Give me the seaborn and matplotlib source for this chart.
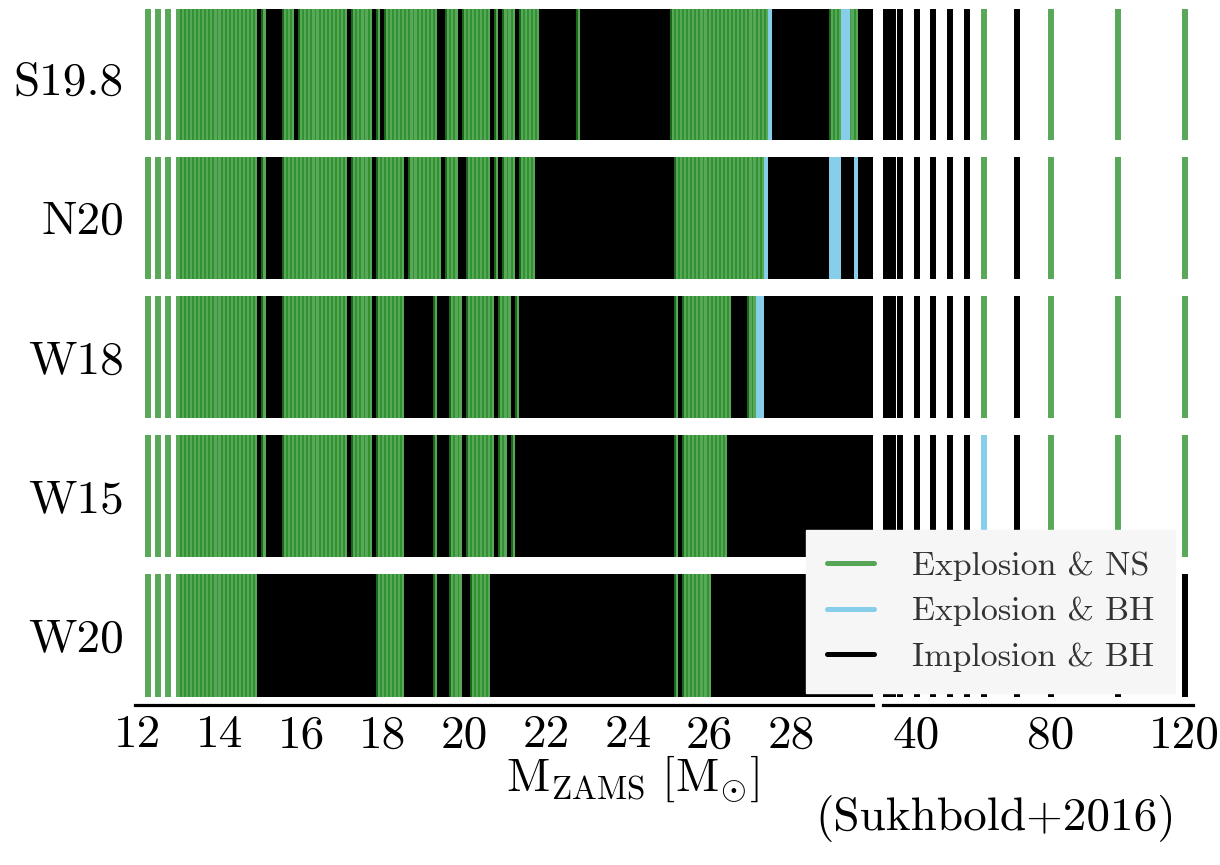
import matplotlib
matplotlib.use("Agg")
import matplotlib.pyplot as plt
import seaborn as sns
from matplotlib.lines import Line2D

# ---------------- data ----------------
models = ["S19.8", "N20", "W18", "W15", "W20"]

low_masses = [12.25, 12.5, 12.75]
fine_masses = [
    13.0, 13.1, 13.2, 13.3, 13.4, 13.5, 13.6, 13.7, 13.8, 13.9,
    14.0, 14.1, 14.2, 14.3, 14.4, 14.5, 14.6, 14.7, 14.8, 14.9,
    15.0, 15.1, 15.2, 15.3, 15.4, 15.5, 15.6, 15.7, 15.8, 15.9,
    16.0, 16.1, 16.2, 16.3, 16.4, 16.5, 16.6, 16.7, 16.8, 16.9,
    17.0, 17.1, 17.2, 17.3, 17.4, 17.5, 17.6, 17.7, 17.8, 17.9,
    18.0, 18.1, 18.2, 18.3, 18.4, 18.5, 18.6, 18.7, 18.8, 18.9,
    19.0, 19.1, 19.2, 19.3, 19.4, 19.5, 19.6, 19.7, 19.8, 19.9,
    20.0, 20.1, 20.2, 20.3, 20.4, 20.5, 20.6, 20.7, 20.8, 20.9,
    21.0, 21.1, 21.2, 21.3, 21.4, 21.5, 21.6, 21.7, 21.8, 21.9,
    22.0, 22.1, 22.2, 22.3, 22.4, 22.5, 22.6, 22.7, 22.8, 22.9,
    23.0, 23.1, 23.2, 23.3, 23.4, 23.5, 23.6, 23.7, 23.8, 23.9,
    24.0, 24.1, 24.2, 24.3, 24.4, 24.5, 24.6, 24.7, 24.8, 24.9,
    25.0, 25.1, 25.2, 25.3, 25.4, 25.5, 25.6, 25.7, 25.8, 25.9,
    26.0, 26.1, 26.2, 26.3, 26.4, 26.5, 26.6, 26.7, 26.8, 26.9,
    27.0, 27.1, 27.2, 27.3, 27.4, 27.5, 27.6, 27.7, 27.8, 27.9,
    28.0, 28.1, 28.2, 28.3, 28.4, 28.5, 28.6, 28.7, 28.8, 28.9,
    29.0, 29.1, 29.2, 29.3, 29.4, 29.5, 29.6, 29.7, 29.8, 29.9,
    30.0,
]
high_masses = [31, 32, 33, 35, 40, 45, 50, 55, 60, 70, 80, 100, 120]

# outcome codes: g = explosion & NS, b = explosion & BH, k = implosion & BH
# low block (12.25-12.75)
s198_low = "ggg"
n20_low = "ggg"
w18_low = "ggg"
w15_low = "ggg"
w20_low = "ggg"

# fine block, one group of ten per integer mass (13.x ... 29.x), then 30.0
s198_fine = ("gggggggggg gggggggggg kgkkkkgggk gggggggggg ggkgggggkg "
             "kggggggggg ggggkkgggk gggggggkgk gggkgggggk kkkkkkkkgk "
             "kkkkkkkkkk kkkkkkkkkk kggggggggg gggggggggg gggggbkkkk "
             "kkkkkkkkkk gggbbggkkk k")
n20_fine = ("gggggggggg gggggggggg kgkkkkgggg gggggggggg ggkgggggkg "
            "ggggggkggg gggggkgggk kggggggkgk gggkggggkk kkkkkkkkkk "
            "kkkkkkkkkk kkkkkkkkkk kkgggggggg gggggggggg ggggbkkkkk "
            "kkkkkkkkkk bbbkkkbkkk k")
w18_fine = ("gggggggggg gggggggggg kgkkkkgggg gggggggggg ggkgggggkg "
            "ggggggkkkk kkkgkkkggg kgggggggkg ggkgkkkkkk kkkkkkkkkk "
            "kkkkkkkkkk kkkkkkkkkk kkgkgggggg ggggggkkkk ggbbkkkkkk "
            "kkkkkkkkkk kkkkkkkkkk k")
w15_fine = ("gggggggggg gggggggggg kgkkkkgggg gggggggggg ggkgggggkg "
            "ggggggkkkk kkkgkkkggg kgggggggkg gkgkkkkkkk kkkkkkkkkk "
            "kkkkkkkkkk kkkkkkkkkk kkgkgggggg gggggkkkkk kkkkkkkkkk "
            "kkkkkkkkkk kkkkkkkkkk k")
w20_fine = ("gggggggggg gggggggggg kkkkkkkkkk kkkkkkkkkk kkkkkkkkkg "
            "ggggggkkkk kkkgkkkggg kkgggggkkk kkkkkkkkkk kkkkkkkkkk "
            "kkkkkkkkkk kkkkkkkkkk kkgkgggggg gkkkkkkkkk kkkkkkkkkk "
            "kkkkkkkkkk kkkkkkkkkk k")

# high block (31 ... 120)
s198_high = "kkkkkkkkgkggg"
n20_high = "kkkkkkkkgkggg"
w18_high = "kkkkkkkkgkggg"
w15_high = "kkkkkkkkbkggg"
w20_high = "kkkkkkkkkkkkk"

left_ticks = [12, 14, 16, 18, 20, 22, 24, 26, 28]
right_ticks = [40, 80, 120]
legend_labels = ["Explosion & NS", "Explosion & BH", "Implosion & BH"]

# ---------------- style ----------------
sns.set_theme(style="white")
plt.rcParams["font.family"] = ["cmr10", "DejaVu Serif"]
plt.rcParams["mathtext.fontset"] = "cm"
plt.rcParams["axes.unicode_minus"] = False
plt.rcParams["axes.formatter.use_mathtext"] = True

GREEN = (34 / 255, 139 / 255, 34 / 255, 0.75)
BLUE = (135 / 255, 206 / 255, 235 / 255, 1.0)
BLACK = (0, 0, 0, 1.0)
code_color = {"g": GREEN, "b": BLUE, "k": BLACK}

fig = plt.figure(figsize=(12.2, 8.65), dpi=100)
ax_l = fig.add_axes([135 / 1220, 1 - 705 / 865, 738 / 1220, 696 / 865])
ax_r = fig.add_axes([882.7 / 1220, 1 - 705 / 865, 310.3 / 1220, 696 / 865])

rows = [
    (s198_low, s198_fine, s198_high),
    (n20_low, n20_fine, n20_high),
    (w18_low, w18_fine, w18_high),
    (w15_low, w15_fine, w15_high),
    (w20_low, w20_fine, w20_high),
]
all_masses = low_masses + fine_masses + high_masses
half = 0.44
LW = 4.3

for i, (lo, fi, hi) in enumerate(rows):
    codes = lo + fi.replace(" ", "") + hi
    assert len(codes) == len(all_masses)
    colors = [code_color[c] for c in codes]
    top = -0.5 if i == 0 else i - half
    for ax in (ax_l, ax_r):
        ax.vlines(all_masses, i + half, top, colors=colors, linewidth=LW)

for ax in (ax_l, ax_r):
    ax.set_ylim(4.5, -0.5)
    sns.despine(ax=ax, left=True, top=True, right=True)
    ax.spines["bottom"].set_color("black")
    ax.spines["bottom"].set_linewidth(2.3)
    ax.tick_params(axis="both", length=0, labelsize=34, colors="black")
    ax.tick_params(axis="x", pad=7)
    ax.grid(False)

ax_l.set_xlim(11.93, 30.0)
ax_l.set_xticks(left_ticks)
ax_l.set_xticklabels([str(t) for t in left_ticks])
ax_l.set_yticks(range(len(models)))
ax_l.set_yticklabels(models)
ax_l.tick_params(axis="y", pad=8)

ax_r.set_xlim(29.9, 122.5)
ax_r.set_xticks(right_ticks)
ax_r.set_xticklabels([str(t) for t in right_ticks])
ax_r.set_yticks([])

fig.text(632 / 1220, 1 - 779 / 865, r"$\mathrm{M_{ZAMS}\ [M_{\odot}]}$",
         fontsize=34, ha="center", va="center", color="black")
fig.text(1176 / 1220, 1 - 819 / 865, "(Sukhbold+2016)", fontsize=34,
         ha="right", va="center", color="black")

handles = [Line2D([0], [0], color=GREEN, lw=3.6),
           Line2D([0], [0], color=BLUE, lw=3.6),
           Line2D([0], [0], color=BLACK, lw=3.6)]
leg = fig.legend(handles, legend_labels, loc="upper right",
                 bbox_to_anchor=(1175 / 1220, 1 - 530 / 865),
                 fontsize=24.4, frameon=True, fancybox=False,
                 facecolor="#f6f6f6", edgecolor="#f6f6f6", framealpha=1.0,
                 handlelength=1.4, handletextpad=1.1, labelspacing=0.47,
                 borderpad=0.62, borderaxespad=0.0)
for t in leg.get_texts():
    t.set_color("#333333")

fig.savefig("out.png", dpi=100)
